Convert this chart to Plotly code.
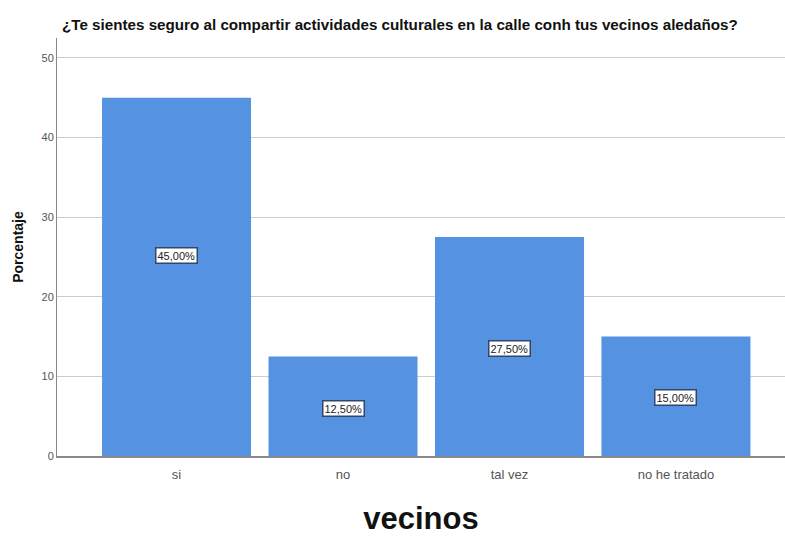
import plotly.graph_objects as go

categories = ["si", "no", "tal vez", "no he tratado"]
values = [45.0, 12.5, 27.5, 15.0]
y_ticks = [0, 10, 20, 30, 40, 50]

# vertical placement of the percentage boxes (fraction of bar height)
label_frac = [0.56, 0.48, 0.49, 0.49]

def fmt(v):
    return f"{v:.2f}".replace(".", ",") + "%"

FONT = "Liberation Sans, Arial"

fig = go.Figure()
fig.add_trace(go.Bar(
    x=categories, y=values,
    marker=dict(color="#5592e1", line=dict(width=0)),
    width=0.895,
    hoverinfo="skip",
))

for c, v, f in zip(categories, values, label_frac):
    fig.add_annotation(
        x=c, y=v * f, text=fmt(v), showarrow=False,
        font=dict(family=FONT, size=11, color="#222"),
        bgcolor="white", bordercolor="#33466a", borderwidth=1.5, borderpad=1,
    )

fig.update_layout(
    width=785, height=536,
    margin=dict(l=57, r=0, t=38, b=80),
    paper_bgcolor="white", plot_bgcolor="white",
    showlegend=False,
    title=dict(
        text="<b>¿Te sientes seguro al compartir actividades culturales en la calle conh tus vecinos aledaños?</b>",
        x=0.079, xanchor="left", xref="container",
        y=1 - 25 / 536, yanchor="middle", yref="container",
        font=dict(family=FONT, size=15.2, color="#111"),
    ),
    font=dict(family=FONT),
)

fig.update_xaxes(
    range=[-0.718, 3.655], automargin=False,
    showgrid=False, showline=True, linecolor="#888", linewidth=1.5,
    ticks="", ticklabelstandoff=6,
    tickfont=dict(size=13, color="#555", family=FONT),
    title=dict(text="<b>vecinos</b>", font=dict(size=31, color="#111", family=FONT), standoff=35),
)
fig.update_yaxes(
    range=[0, 52.5], tickvals=y_ticks,
    showgrid=True, gridcolor="#cccccc", gridwidth=1,
    showline=True, linecolor="#888", linewidth=1,
    zeroline=False,
    ticks="", tickfont=dict(size=11, color="#555", family=FONT),
    title=dict(text="<b>Porcentaje</b>", font=dict(size=14, color="#111", family=FONT), standoff=14),
)

fig.write_html(
    "out.html",
    config={"displayModeBar": False},
    post_script="document.body.style.margin='0';document.body.style.padding='0';",
)
